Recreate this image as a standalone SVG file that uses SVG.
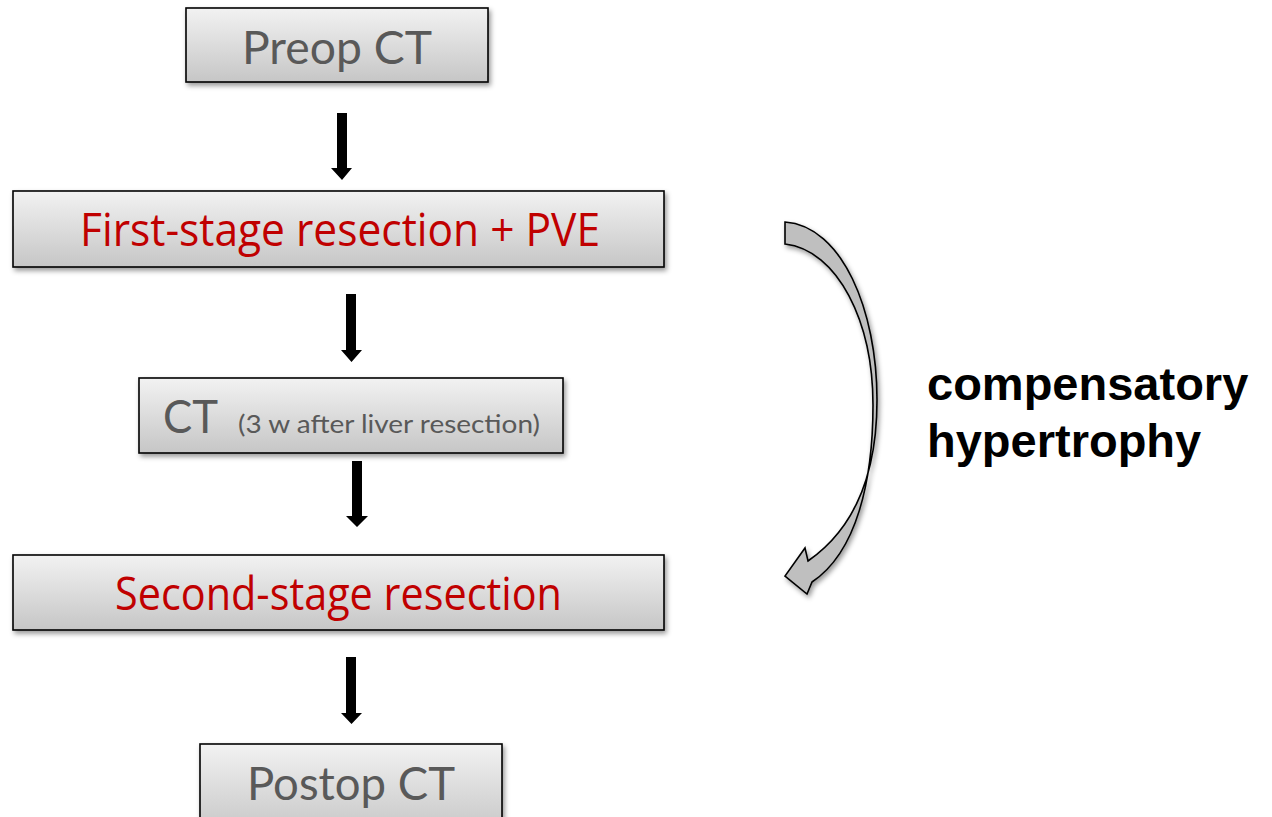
<svg xmlns="http://www.w3.org/2000/svg" width="1272" height="817" viewBox="0 0 1272 817">
<defs>
<linearGradient id="boxGrad" x1="0" y1="0" x2="0" y2="1">
<stop offset="0" stop-color="#f2f2f2"/>
<stop offset="1" stop-color="#c6c6c6"/>
</linearGradient>
<filter id="shadow" x="-10%" y="-20%" width="120%" height="150%">
<feDropShadow dx="2" dy="3" stdDeviation="2.5" flood-color="#000" flood-opacity="0.4"/>
</filter>
</defs>
<style>
.box{fill:url(#boxGrad);stroke:#000;stroke-width:1.6;filter:url(#shadow)}
.gray{font-family:Lato,"Open Sans","Liberation Sans",sans-serif;fill:#595959}
.red{font-family:"Open Sans","Liberation Sans",sans-serif;fill:#C00000}
.lbl{font-family:"Liberation Sans",Arial,sans-serif;font-weight:bold;fill:#000;font-size:47px}
.arr{fill:#000}
.curve{fill:#bfbfbf;stroke:#000;stroke-width:1.6;stroke-linejoin:miter;filter:url(#shadow)}
</style>
<rect width="1272" height="817" fill="#fff"/>
<g id="preop">
<rect class="box" x="186" y="8" width="302" height="74"/>
<text class="gray" x="242" y="64" font-size="46" textLength="190" lengthAdjust="spacingAndGlyphs">Preop CT</text>
</g>
<g id="first-stage">
<rect class="box" x="13" y="191" width="651" height="76"/>
<text class="red" x="80" y="246" font-size="46" textLength="520" lengthAdjust="spacingAndGlyphs">First-stage resection + PVE</text>
</g>
<g id="ct">
<rect class="box" x="139" y="378" width="424" height="75"/>
<text class="gray" x="163" y="433" font-size="47" textLength="55" lengthAdjust="spacingAndGlyphs">CT</text>
<text class="gray" x="238" y="433" font-size="25" textLength="302" lengthAdjust="spacingAndGlyphs">(3 w after liver resection)</text>
</g>
<g id="second-stage">
<rect class="box" x="13" y="555" width="651" height="75"/>
<text class="red" x="115" y="610" font-size="46" textLength="447" lengthAdjust="spacingAndGlyphs">Second-stage resection</text>
</g>
<g id="postop">
<rect class="box" x="200" y="744" width="302" height="90"/>
<text class="gray" x="247" y="800" font-size="46" textLength="208" lengthAdjust="spacingAndGlyphs">Postop CT</text>
</g>
<g id="connectors">
<path class="arr" d="M337,113 H347 V168 H352 L342,180 L331,168 H337 Z"/>
<path class="arr" d="M346,294 H356 V350 H362 L351.5,362 L341,350 H346 Z"/>
<path class="arr" d="M352,461 H362 V516 H368 L357,527 L346,516 H352 Z"/>
<path class="arr" d="M346,657 H356 V713 H362 L351.5,724 L341,713 H346 Z"/>
<path class="curve" d="M785,222 C842,226 877,310 877,400 C877,472 857,527 808,561 L805,548 L785,576 L807,594 L812,582 C857,552 873,480 873,405 C873,322 838,250 785,244 Z"/>
</g>
<g id="label">
<text class="lbl" x="927" y="400">compensatory</text>
<text class="lbl" x="927" y="457">hypertrophy</text>
</g>
</svg>
